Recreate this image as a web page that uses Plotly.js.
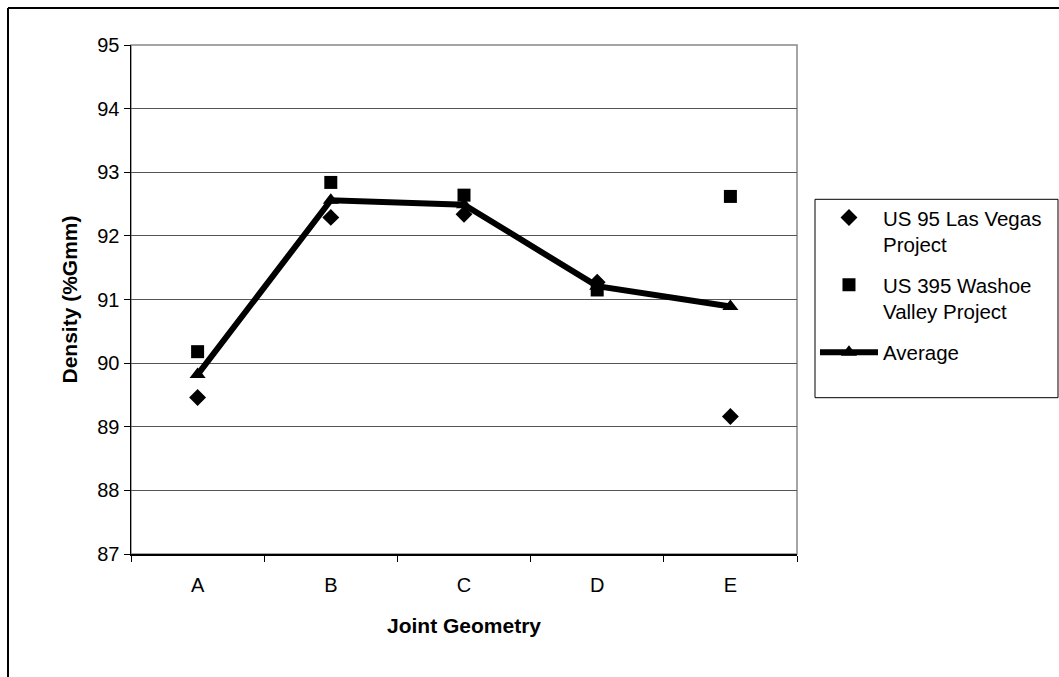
<!DOCTYPE html>
<html>
<head>
<meta charset="utf-8">
<script src="https://cdn.plot.ly/plotly-3.0.1.min.js"></script>
<style>html,body{margin:0;padding:0;background:#fff;}#chart{width:1059px;height:677px;}</style>
</head>
<body>
<div id="chart"></div>
<script>
var categories = ["A", "B", "C", "D", "E"];
var lasVegas = [89.46, 92.29, 92.34, 91.27, 89.16];
var washoe = [90.18, 92.84, 92.64, 91.15, 92.62];
var average = [89.82, 92.56, 92.49, 91.21, 90.89];
var seriesNames = ["US 95 Las Vegas<br>Project", "US 395 Washoe<br>Valley Project", "Average"];

var FONT = "Liberation Sans, Arial, sans-serif";

var traces = [
  {x: categories, y: lasVegas, name: seriesNames[0], type: "scatter", mode: "markers",
   legendgroup: "g1",
   marker: {symbol: "diamond", size: 13, color: "#000"}},
  {x: categories, y: washoe, name: seriesNames[1], type: "scatter", mode: "markers",
   legendgroup: "g2",
   marker: {symbol: "square", size: 13, color: "#000"}},
  {x: categories, y: average, name: seriesNames[2], type: "scatter", mode: "lines+markers",
   legendgroup: "g3",
   line: {color: "#000", width: 6},
   marker: {symbol: "triangle-up", size: 14, color: "#000"}}
];

var layout = {
  width: 1059, height: 677,
  margin: {l: 131, r: 262, t: 45, b: 123, pad: 0},
  paper_bgcolor: "#fff", plot_bgcolor: "#fff",
  font: {family: FONT, size: 20, color: "#000"},
  showlegend: true,
  legend: {
    x: 1.027, xanchor: "left", y: 0.7, yanchor: "top",
    bgcolor: "rgba(0,0,0,0)", borderwidth: 0, valign: "top",
    font: {family: FONT, size: 20.5, color: "#000"},
    itemwidth: 58, tracegroupgap: 11, traceorder: "grouped"
  },
  xaxis: {
    type: "category", tickson: "boundaries", ticks: "outside", ticklen: 6, tickcolor: "#000",
    ticklabelstandoff: 12,
    showgrid: false, showline: true, linecolor: "#000", linewidth: 1.5,
    mirror: false, zeroline: false,
    tickfont: {family: FONT, size: 20, color: "#000"},
    title: {text: "<b>Joint Geometry</b>", font: {family: FONT, size: 21, color: "#000"}, standoff: 24},
    range: [-0.5, 4.5], fixedrange: true
  },
  yaxis: {
    range: [87, 95], dtick: 1, ticks: "outside", ticklen: 6, tickcolor: "#000",
    showgrid: true, gridcolor: "#555", gridwidth: 1,
    showline: true, linecolor: "#000", linewidth: 1.5, zeroline: false,
    tickfont: {family: FONT, size: 20, color: "#000"},
    title: {text: "<b>Density (%Gmm)</b>", font: {family: FONT, size: 21, color: "#000"}, standoff: 14},
    fixedrange: true
  },
  shapes: [
    {type: "rect", xref: "paper", yref: "paper", x0: 0, x1: 1, y0: 0, y1: 1,
     line: {color: "#888", width: 1.5}, fillcolor: "rgba(0,0,0,0)", layer: "below"},
    {type: "rect", xref: "paper", yref: "paper",
     x0: (815 - 131) / 666, x1: (1058 - 131) / 666,
     y0: (553 - 397) / 508, y1: (553 - 199) / 508,
     line: {color: "#000", width: 1}, fillcolor: "rgba(0,0,0,0)"},
    {type: "line", xref: "paper", yref: "paper",
     x0: (8 - 131) / 666, x1: (1062 - 131) / 666,
     y0: (553 - 8) / 508, y1: (553 - 8) / 508,
     line: {color: "#000", width: 2}},
    {type: "line", xref: "paper", yref: "paper",
     x0: (8 - 131) / 666, x1: (8 - 131) / 666,
     y0: (553 - 8) / 508, y1: (553 - 680) / 508,
     line: {color: "#000", width: 2}}
  ]
};

Plotly.newPlot("chart", traces, layout, {displayModeBar: false, staticPlot: true});
</script>
</body>
</html>
